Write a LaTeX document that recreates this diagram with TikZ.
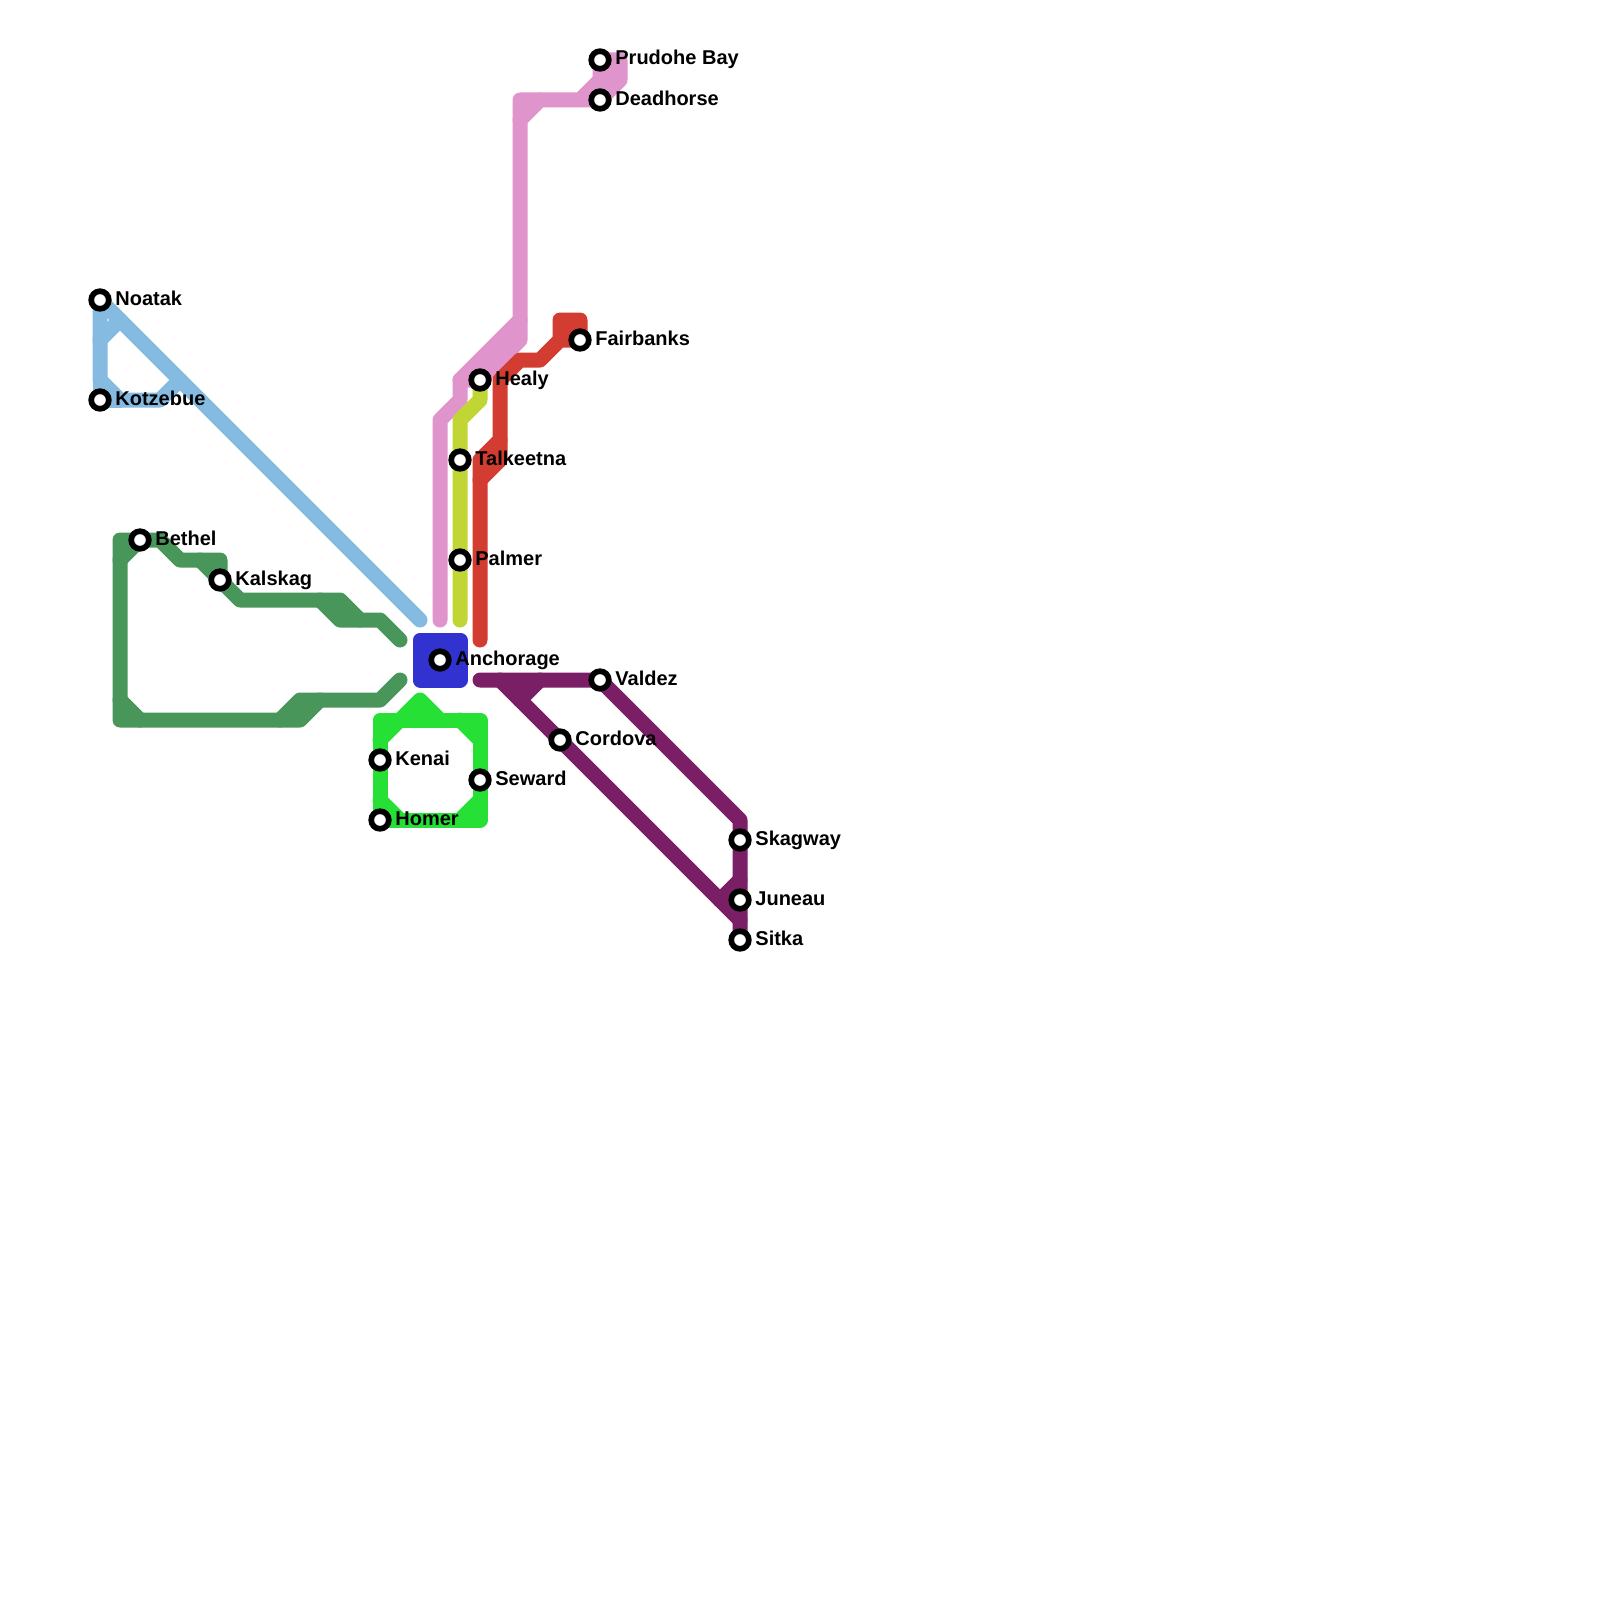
\documentclass[tikz,border=0pt]{standalone}
\usepackage{fontspec}
\setmainfont{Liberation Sans}
\definecolor{lblue}{HTML}{85BBE0}
\definecolor{dgreen}{HTML}{49965B}
\definecolor{bgreen}{HTML}{27E035}
\definecolor{royal}{HTML}{3232D0}
\definecolor{plum}{HTML}{7A1E65}
\definecolor{redl}{HTML}{D33C30}
\definecolor{lime}{HTML}{C1D535}
\definecolor{pinkl}{HTML}{E094CC}
\tikzset{
  route/.style={line width=7.5pt,line cap=round,line join=round},
  stop/.style={circle,draw=black,fill=white,line width=2.85pt,minimum size=8.8pt,inner sep=0pt,outer sep=0pt},
  stoplabel/.style={anchor=base west,inner sep=0pt,font=\fontsize{10}{12}\selectfont\bfseries,text=black}
}
\begin{document}
\begin{tikzpicture}[x=0.5pt,y=-0.5pt]
\useasboundingbox (0,0) rectangle (1600,1600);
\fill[white] (0,0) rectangle (1600,1600);
% station positions
\coordinate (noatak) at (100,300);
\coordinate (kotzebue) at (100,400);
\coordinate (bethel) at (140,540);
\coordinate (kalskag) at (220,580);
\coordinate (kenai) at (380,760);
\coordinate (homer) at (380,820);
\coordinate (anchorage) at (440,660);
\coordinate (seward) at (480,780);
\coordinate (healy) at (480,380);
\coordinate (talkeetna) at (460,460);
\coordinate (palmer) at (460,560);
\coordinate (fairbanks) at (580,340);
\coordinate (prudhoe) at (600,60);
\coordinate (deadhorse) at (600,100);
\coordinate (valdez) at (600,680);
\coordinate (cordova) at (560,740);
\coordinate (skagway) at (740,840);
\coordinate (juneau) at (740,900);
\coordinate (sitka) at (740,940);
% light blue
\draw[route,lblue] (noatak) -- (420,620);
\draw[route,lblue] (noatak) -- (100,380) -- (120,400) -- (160,400) -- (180,380);
\draw[route,lblue] (kotzebue) -- (100,380);
\draw[route,lblue] (kotzebue) -- (120,400);
\draw[route,lblue] (100,340) -- (120,320);
% dark green
\draw[route,dgreen] (bethel) -- (120,540) -- (120,720) -- (300,720) -- (320,700) -- (380,700) -- (400,680);
\draw[route,dgreen] (280,720) -- (300,700) -- (320,700);
\draw[route,dgreen] (120,700) -- (140,720);
\draw[route,dgreen] (120,560) -- (bethel);
\draw[route,dgreen] (bethel) -- (160,540) -- (180,560) -- (220,560) -- (kalskag) -- (240,600) -- (340,600) -- (360,620) -- (380,620) -- (400,640);
\draw[route,dgreen] (200,560) -- (kalskag);
\draw[route,dgreen] (320,600) -- (340,620) -- (360,620);
\fill[dgreen] (320,600) -- (340,600) -- (360,620) -- (340,620) -- cycle;
\fill[dgreen] (280,720) -- (300,700) -- (320,700) -- (300,720) -- cycle;
\fill[dgreen] (120,700) -- (140,720) -- (120,720) -- cycle;
% royal blue
\draw[route,royal,fill=royal] (420,640) rectangle (460,680);
% bright green
\draw[route,bgreen] (380,720) -- (480,720) -- (480,820) -- (380,820) -- cycle;
\draw[route,bgreen,fill=bgreen] (400,720) -- (420,700) -- (440,720) -- cycle;
\draw[route,bgreen] (380,740) -- (400,720);
\draw[route,bgreen] (460,720) -- (480,740);
\draw[route,bgreen] (380,800) -- (400,820);
\draw[route,bgreen] (460,820) -- (480,800);
% pink
\draw[route,pinkl] (440,620) -- (440,420) -- (460,400) -- (460,380) -- (520,320) -- (520,120) -- (540,100);
\draw[route,pinkl] (460,380) -- (healy) -- (520,340) -- (520,320);
\draw[route,pinkl] (520,120) -- (520,100) -- (deadhorse) -- (620,80) -- (620,60) -- (prudhoe) -- (600,80) -- (580,100);
\fill[pinkl] (600,60) -- (620,60) -- (620,80) -- (600,100) -- (580,100) -- (600,80) -- cycle;
\fill[pinkl] (460,380) -- (520,320) -- (520,340) -- (480,380) -- cycle;
% lime
\draw[route,lime] (460,620) -- (460,420) -- (480,400) -- (healy);
% red
\draw[route,redl] (480,640) -- (480,460) -- (500,440) -- (500,380) -- (520,360) -- (540,360) -- (560,340) -- (560,320) -- (580,320) -- (fairbanks) -- (560,340);
\draw[route,redl] (480,480) -- (500,460) -- (500,440);
\fill[redl] (480,460) -- (500,440) -- (500,460) -- (480,480) -- cycle;
\fill[redl] (560,320) rectangle (580,340);
% plum
\draw[route,plum] (480,680) -- (valdez) -- (740,820) -- (sitka);
\draw[route,plum] (500,680) -- (740,920);
\draw[route,plum] (520,700) -- (540,680);
\draw[route,plum] (720,900) -- (740,880);
\fill[plum] (500,680) -- (540,680) -- (520,700) -- cycle;
% labels
\node[stoplabel] (lnoatak) at (115,305) {Noatak};
\node[stoplabel] (lkotzebue) at (115,405) {Kotzebue};
\node[stoplabel] (lbethel) at (155,545) {Bethel};
\node[stoplabel] (lkalskag) at (235,585) {Kalskag};
\node[stoplabel] (lkenai) at (395,765) {Kenai};
\node[stoplabel] (lhomer) at (395,825) {Homer};
\node[stoplabel] (lanchorage) at (455,665) {Anchorage};
\node[stoplabel] (lseward) at (495,785) {Seward};
\node[stoplabel] (lhealy) at (495,385) {Healy};
\node[stoplabel] (ltalkeetna) at (475,465) {Talkeetna};
\node[stoplabel] (lpalmer) at (475,565) {Palmer};
\node[stoplabel] (lfairbanks) at (595,345) {Fairbanks};
\node[stoplabel] (lprudhoe) at (615,65) {Prudohe Bay};
\node[stoplabel] (ldeadhorse) at (615,105) {Deadhorse};
\node[stoplabel] (lvaldez) at (615,685) {Valdez};
\node[stoplabel] (lcordova) at (575,745) {Cordova};
\node[stoplabel] (lskagway) at (755,845) {Skagway};
\node[stoplabel] (ljuneau) at (755,905) {Juneau};
\node[stoplabel] (lsitka) at (755,945) {Sitka};
% stations
\foreach \s in {noatak,kotzebue,bethel,kalskag,kenai,homer,anchorage,seward,healy,talkeetna,palmer,fairbanks,prudhoe,deadhorse,valdez,cordova,skagway,juneau,sitka}
  \node[stop] (st\s) at (\s) {};
\end{tikzpicture}
\end{document}
